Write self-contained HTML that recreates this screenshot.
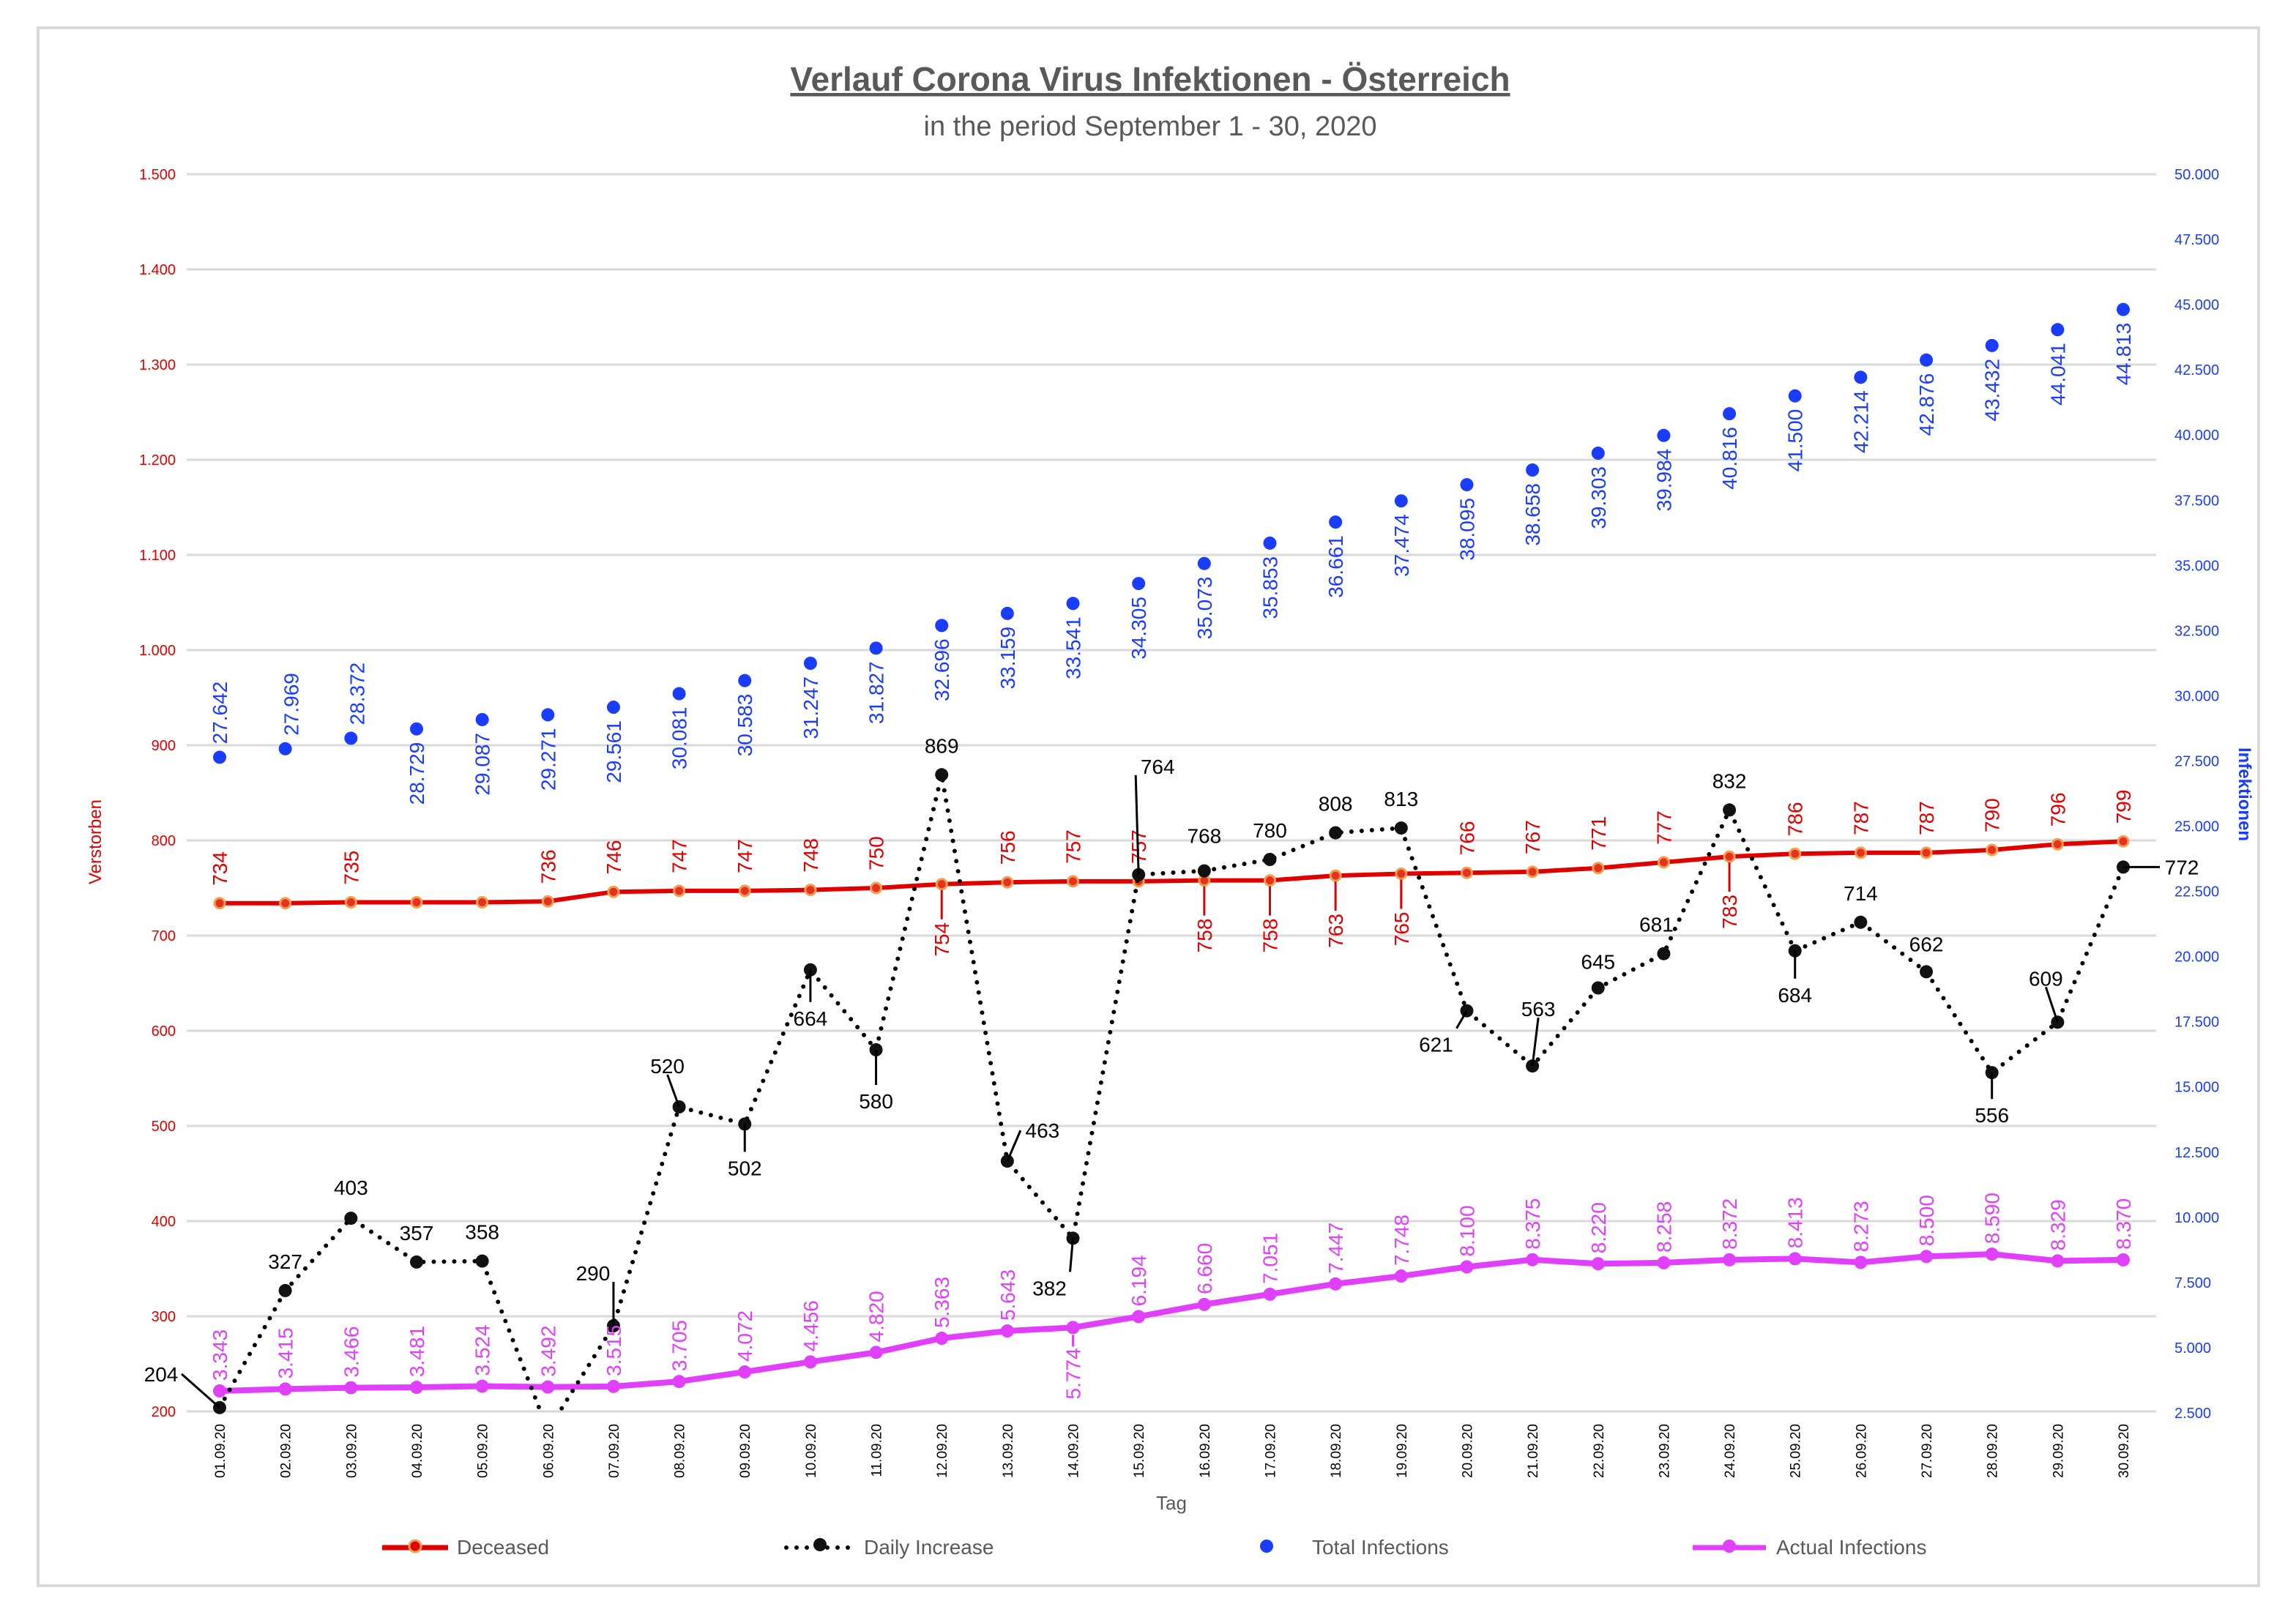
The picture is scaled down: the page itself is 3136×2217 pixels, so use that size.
<!DOCTYPE html>
<html><head><meta charset="utf-8"><style>
html,body{margin:0;padding:0;background:#fff}
svg{display:block;font-family:"Liberation Sans",sans-serif}
</style></head><body>
<svg id="chart" width="3136" height="2217" viewBox="0 0 3136 2217">
<rect x="52" y="38" width="3033" height="2128" fill="#fff" stroke="#d9d9d9" stroke-width="4"/>
<text x="1571" y="124" text-anchor="middle" font-size="46" font-weight="bold" fill="#595959" text-decoration="underline">Verlauf Corona Virus Infektionen - Österreich</text>
<text x="1571" y="185" text-anchor="middle" font-size="38" fill="#595959">in the period September 1 - 30, 2020</text>
<text transform="rotate(-90 138 1150)" x="138" y="1150" text-anchor="middle" font-size="24" fill="#e00000">Verstorben</text>
<text transform="rotate(90 3058 1085)" x="3058" y="1085" text-anchor="middle" font-size="24" font-weight="bold" fill="#1a3cff">Infektionen</text>
<text x="1600" y="2062" text-anchor="middle" font-size="26" fill="#595959">Tag</text>
<g id="grid"></g><g id="axes"></g><g id="series"></g><g id="labels"></g>
<g>
<g><line x1="522" y1="2114" x2="612" y2="2114" stroke="#e00000" stroke-width="7"/><circle cx="567" cy="2112" r="8" fill="#e00000" stroke="#f0a050" stroke-width="3"/><text x="624" y="2123" font-size="28" fill="#595959">Deceased</text></g>
<g><line x1="1074" y1="2114" x2="1170" y2="2114" stroke="#000" stroke-width="6" stroke-dasharray="0 14" stroke-linecap="round"/><circle cx="1120" cy="2110" r="9" fill="#111"/><text x="1180" y="2123" font-size="28" fill="#595959">Daily Increase</text></g>
<g><circle cx="1730" cy="2112" r="9" fill="#1a3cff"/><text x="1792" y="2123" font-size="28" fill="#595959">Total Infections</text></g>
<g><line x1="2312" y1="2114" x2="2412" y2="2114" stroke="#e040fb" stroke-width="7"/><circle cx="2362" cy="2112" r="9" fill="#e040fb"/><text x="2426" y="2123" font-size="28" fill="#595959">Actual Infections</text></g>
</g>
</svg>
<script>
const days = ["01.09.20","02.09.20","03.09.20","04.09.20","05.09.20","06.09.20","07.09.20","08.09.20","09.09.20","10.09.20","11.09.20","12.09.20","13.09.20","14.09.20","15.09.20","16.09.20","17.09.20","18.09.20","19.09.20","20.09.20","21.09.20","22.09.20","23.09.20","24.09.20","25.09.20","26.09.20","27.09.20","28.09.20","29.09.20","30.09.20"];
const deceased = [734,734,735,735,735,736,746,747,747,748,750,754,756,757,757,758,758,763,765,766,767,771,777,783,786,787,787,790,796,799];
const dailyIncrease = [204,327,403,357,358,180,290,520,502,664,580,869,463,382,764,768,780,808,813,621,563,645,681,832,684,714,662,556,609,772];
const totalInfections = [27642,27969,28372,28729,29087,29271,29561,30081,30583,31247,31827,32696,33159,33541,34305,35073,35853,36661,37474,38095,38658,39303,39984,40816,41500,42214,42876,43432,44041,44813];
const actualInfections = [3343,3415,3466,3481,3524,3492,3515,3705,4072,4456,4820,5363,5643,5774,6194,6660,7051,7447,7748,8100,8375,8220,8258,8372,8413,8273,8500,8590,8329,8370];
const leftTicks = [200,300,400,500,600,700,800,900,1000,1100,1200,1300,1400,1500];
const rightTicks = [2500,5000,7500,10000,12500,15000,17500,20000,22500,25000,27500,30000,32500,35000,37500,40000,42500,45000,47500,50000];

// layout (not data)
const decShow = [1,0,1,0,0,1,1,1,1,1,1,1,1,1,1,1,1,1,1,1,1,1,1,1,1,1,1,1,1,1];
const decBelow = [11,15,16,17,18,23];
const totAbove = [0,1,2];
const actBelow = [13];
const dOff = [[-80,-46],[0,-40],[0,-42],[0,-40],[0,-40],null,[-28,-72],[-16,-56],[0,60],[0,66],[0,70],[0,-40],[48,-42],[-32,68],[26,-148],[0,-48],[0,-40],[0,-40],[0,-40],[-42,46],[8,-78],[0,-36],[-10,-40],[0,-40],[0,60],[0,-40],[0,-38],[0,58],[-16,-60],[80,0]];

const NS="http://www.w3.org/2000/svg";
const X0=300, X1=2900, L0=255, L1=2945;
const x = i => X0 + i*(X1-X0)/(days.length-1);
const yL = v => 238 + (1500-v)*1.3;
const yR = v => 238 + (50000-v)/47500*1692;
function el(tag, attrs, parent, txt){const e=document.createElementNS(NS,tag);for(const k in attrs)e.setAttribute(k,attrs[k]);if(txt!==undefined)e.textContent=txt;parent.appendChild(e);return e;}
const fmt = v => v>=1000 ? Math.floor(v/1000)+"."+String(v%1000).padStart(3,"0") : String(v);
const grid=document.getElementById("grid"), axes=document.getElementById("axes"), series=document.getElementById("series"), labels=document.getElementById("labels");

leftTicks.forEach(t=>{
  const g=el("line",{x1:L0,x2:L1,y1:yL(t),y2:yL(t),stroke:"#d9d9d9","stroke-width":3},grid);
  
  
  const tx=el("text",{x:240,y:yL(t)+7,"text-anchor":"end","font-size":20,fill:"#e00000"},axes,fmt(t));
  
  
});
rightTicks.forEach(t=>{
  const tx=el("text",{x:2970,y:yR(t)+7,"font-size":20,fill:"#1a3cff"},axes,fmt(t));
  
  
});
days.forEach((d,i)=>{
  const tx=el("text",{x:0,y:0,"font-size":19,fill:"#000","text-anchor":"end",transform:`translate(${x(i)+7},1945) rotate(-90)`},axes,d);
  
  
});

// clip for plot area
const defs=el("defs",{},series);
const cp=el("clipPath",{id:"plot"},defs);
el("rect",{x:0,y:200,width:3136,height:1731},cp);

// actual infections
const act=el("polyline",{points:actualInfections.map((v,i)=>x(i)+","+yR(v)).join(" "),fill:"none",stroke:"#e040fb","stroke-width":8,"stroke-linejoin":"round"},series);


actualInfections.forEach((v,i)=>{
  const c=el("circle",{cx:x(i),cy:yR(v),r:9,fill:"#e040fb"},series);
  
  
  const below=actBelow.includes(i);
  if(below) el("line",{x1:x(i),y1:yR(v)+10,x2:x(i),y2:yR(v)+26,stroke:"#e040fb","stroke-width":3},labels);
  const t=el("text",{x:0,y:0,"font-size":28,fill:"#e040fb","text-anchor":below?"end":"start",transform:`translate(${x(i)+10},${below?yR(v)+28:yR(v)-14}) rotate(-90)`},labels,fmt(v));
  
  
});

// deceased
const dec=el("polyline",{points:deceased.map((v,i)=>x(i)+","+yL(v)).join(" "),fill:"none",stroke:"#e00000","stroke-width":6,"stroke-linejoin":"round"},series);


deceased.forEach((v,i)=>{
  const c=el("circle",{cx:x(i),cy:yL(v),r:7,fill:"#e83020",stroke:"#f0a050","stroke-width":3},series);
  
  
  if(!decShow[i]) return;
  const below=decBelow.includes(i);
  if(below) el("line",{x1:x(i),y1:yL(v)+8,x2:x(i),y2:yL(v)+48,stroke:"#e00000","stroke-width":3},labels);
  const t=el("text",{x:0,y:0,"font-size":28,fill:"#e00000","text-anchor":below?"end":"start",transform:`translate(${x(i)+10},${below?yL(v)+52:yL(v)-24}) rotate(-90)`},labels,fmt(v));
  
  
});

// daily increase
const di=el("polyline",{points:dailyIncrease.map((v,i)=>x(i)+","+yL(v)).join(" "),fill:"none",stroke:"#000","stroke-width":6,"stroke-dasharray":"0 14","stroke-linecap":"round","clip-path":"url(#plot)"},series);


dailyIncrease.forEach((v,i)=>{
  if(v<200) return;
  const c=el("circle",{cx:x(i),cy:yL(v),r:9,fill:"#111"},series);
  
  
  const o=dOff[i]; if(!o) return;
  const lx=x(i)+o[0], ly=yL(v)+o[1];
  if(Math.abs(o[0])>20||Math.abs(o[1])>50){
    el("line",{x1:x(i),y1:yL(v),x2:lx+(o[0]<-20?28:o[0]>20?-30:0),y2:ly+(o[1]>0?-22:o[1]<-50?12:0),stroke:"#000","stroke-width":3},labels);
  }
  const t=el("text",{x:lx,y:ly+10,"text-anchor":"middle","font-size":28,fill:"#000"},labels,fmt(v));
  
  
});

// total infections
totalInfections.forEach((v,i)=>{
  const c=el("circle",{cx:x(i),cy:yR(v),r:9,fill:"#1a3cff"},series);
  
  
  const above=totAbove.includes(i);
  const t=el("text",{x:0,y:0,"font-size":28,fill:"#1a3cff","text-anchor":above?"start":"end",transform:`translate(${x(i)+(above&&i>0?18:10)},${above?yR(v)-18:yR(v)+18}) rotate(-90)`},labels,fmt(v));
  
  
});
</script>
</body></html>
